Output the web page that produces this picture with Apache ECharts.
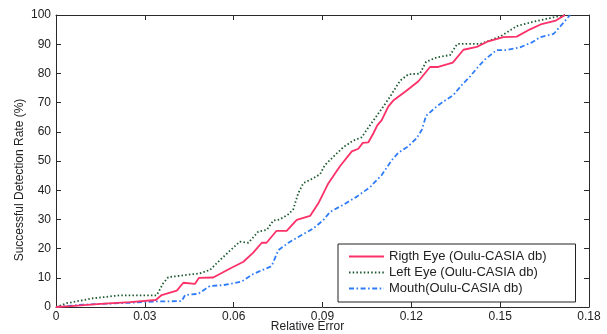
<!DOCTYPE html>
<html>
<head>
<meta charset="utf-8">
<script src="https://cdn.jsdelivr.net/npm/echarts@6/dist/echarts.min.js"></script>
<style>html,body{margin:0;padding:0;background:#fff}#c{width:607px;height:334px}</style>
</head>
<body>
<div id="c"></div>
<script>
const seriesNames = ['Rigth Eye (Oulu-CASIA db)', 'Left Eye (Oulu-CASIA db)', 'Mouth(Oulu-CASIA db)'];

const rightEyeX = [0, 0.005, 0.015, 0.025, 0.0337, 0.0357, 0.0408, 0.0430, 0.0469, 0.0483, 0.0531, 0.0588, 0.0633, 0.0666, 0.0695, 0.0711, 0.0745, 0.0779, 0.0813, 0.0858, 0.0886, 0.0920, 0.0959, 0.0999, 0.1021, 0.1036, 0.1055, 0.1072, 0.1085, 0.1100, 0.1122, 0.1139, 0.1179, 0.1224, 0.1263, 0.1291, 0.1340, 0.1376, 0.1421, 0.1460, 0.1511, 0.1556, 0.1601, 0.1640, 0.1688, 0.1719];
const rightEyeY = [0, 0.3, 1.1, 1.7, 2.4, 4.1, 5.6, 8.3, 7.9, 10.0, 10.1, 13.2, 15.5, 18.6, 22, 22, 26.1, 26.1, 29.8, 31.2, 35.5, 42.4, 48.2, 53.3, 54.2, 56.2, 56.4, 59.5, 62.2, 64, 68.6, 70.7, 73.7, 77.3, 82.2, 82.2, 83.7, 88.1, 89.1, 91, 92.4, 92.6, 95.1, 96.9, 98.1, 100];

const leftEyeX = [0, 0.0036, 0.0126, 0.0216, 0.0340, 0.0362, 0.0379, 0.0441, 0.0486, 0.0520, 0.0554, 0.0588, 0.0621, 0.0650, 0.0683, 0.0712, 0.0734, 0.0756, 0.0785, 0.0801, 0.0818, 0.0835, 0.0869, 0.0892, 0.0908, 0.0937, 0.0970, 0.1004, 0.1032, 0.1049, 0.1077, 0.1105, 0.1128, 0.1162, 0.1190, 0.1229, 0.1250, 0.1286, 0.1331, 0.1355, 0.1432, 0.1500, 0.1556, 0.1612, 0.1680, 0.1719];
const leftEyeY = [0, 1.3, 3.0, 4.0, 4.0, 8.1, 10.2, 11, 11.5, 12.7, 16.1, 19.3, 22.4, 22, 25.8, 26.4, 29.6, 30, 31.8, 33.4, 38.9, 42.4, 44.1, 45.5, 48.6, 51.5, 54.7, 57, 58.1, 60.6, 64.6, 68.6, 72, 77.5, 79.7, 79.9, 84, 85.5, 86.3, 90.1, 90.1, 92.6, 96.2, 97.7, 99.2, 100];

const mouthX = [0, 0.0092, 0.0261, 0.0340, 0.0424, 0.0436, 0.0480, 0.0520, 0.0565, 0.0627, 0.0666, 0.0728, 0.0751, 0.0785, 0.0824, 0.0869, 0.0903, 0.0925, 0.0970, 0.1016, 0.1060, 0.1100, 0.1134, 0.1156, 0.1190, 0.1218, 0.1235, 0.1250, 0.1280, 0.1303, 0.1342, 0.1370, 0.1398, 0.1426, 0.1449, 0.1488, 0.1522, 0.1567, 0.1607, 0.1635, 0.1680, 0.1702, 0.1736];
const mouthY = [0, 0.8, 1.5, 1.9, 2.0, 4.1, 4.5, 7.2, 7.5, 8.7, 11.3, 14, 19.5, 22, 24.3, 26.9, 29.8, 32.5, 35, 37.8, 41, 45.2, 50.3, 52.8, 55.1, 57.8, 60.6, 65.5, 68.2, 70, 72.6, 76, 78.9, 82.3, 84.8, 88, 88, 88.9, 90.6, 92.4, 93.5, 96, 100];

const xTicks = [0, 0.03, 0.06, 0.09, 0.12, 0.15, 0.18];
const yTicks = [0, 10, 20, 30, 40, 50, 60, 70, 80, 90, 100];

const zip = (xs, ys) => xs.map((x, i) => [x, ys[i]]);
const FONT = '"Liberation Sans", Arial, sans-serif';
const axisCol = '#2a2a2a';

const baseX = {
  type: 'value', min: xTicks[0], max: xTicks[xTicks.length - 1], interval: 0.03,
  axisLine: { show: true, onZero: false, lineStyle: { color: axisCol, width: 1 } },
  axisTick: { show: true, inside: true, length: 5, lineStyle: { color: axisCol } },
  splitLine: { show: false }
};
const baseY = {
  type: 'value', min: yTicks[0], max: yTicks[yTicks.length - 1], interval: 10,
  axisLine: { show: true, onZero: false, lineStyle: { color: axisCol, width: 1 } },
  axisTick: { show: true, inside: true, length: 5, lineStyle: { color: axisCol } },
  splitLine: { show: false }
};

const chart = echarts.init(document.getElementById('c'), null, { renderer: 'canvas' });
chart.setOption({
  animation: false,
  backgroundColor: '#fff',
  textStyle: { fontFamily: FONT },
  grid: { left: 56, right: 18, top: 15, bottom: 27, containLabel: false, outerBoundsMode: 'none' },
  xAxis: [
    Object.assign({}, baseX, {
      position: 'bottom',
      name: 'Relative Error', nameLocation: 'middle', nameGap: 14, nameMoveOverlap: false,
      nameTextStyle: { fontFamily: FONT, fontSize: 12, color: '#222', padding: [0, 30, 0, 0] },
      axisLabel: { show: true, margin: 4, fontFamily: FONT, fontSize: 12, color: '#222',
        formatter: v => (v === 0 ? '0' : v.toFixed(2)) }
    }),
    Object.assign({}, baseX, { position: 'top', axisLabel: { show: false } })
  ],
  yAxis: [
    Object.assign({}, baseY, {
      position: 'left',
      name: 'Successful Detection Rate (%)', nameLocation: 'middle', nameGap: 30, nameMoveOverlap: false,
      nameTextStyle: { fontFamily: FONT, fontSize: 12, color: '#222', padding: [0, 38, 0, 0] },
      axisLabel: { show: true, margin: 5, fontFamily: FONT, fontSize: 12, color: '#222' }
    }),
    Object.assign({}, baseY, { position: 'right', axisLabel: { show: false } })
  ],
  legend: {
    show: true, orient: 'vertical', left: 338, top: 244,
    padding: [6, 29, 7, 10], itemGap: 3, itemWidth: 35, itemHeight: 14,
    backgroundColor: '#fff', borderColor: '#222', borderWidth: 1, borderRadius: 0,
    itemStyle: { opacity: 0 },
    textStyle: { fontFamily: FONT, fontSize: 13, color: '#222' },
    data: seriesNames
  },
  series: [
    { name: seriesNames[0], type: 'line', data: zip(rightEyeX, rightEyeY), showSymbol: false, symbol: 'none',
      lineStyle: { color: '#fb3168', width: 1.8, type: 'solid' }, itemStyle: { color: '#fb3168' }, z: 4 },
    { name: seriesNames[1], type: 'line', data: zip(leftEyeX, leftEyeY), showSymbol: false, symbol: 'none',
      lineStyle: { color: '#1d5a30', width: 1.8, type: [1.5, 2.2] }, itemStyle: { color: '#1d5a30' }, z: 3 },
    { name: seriesNames[2], type: 'line', data: zip(mouthX, mouthY), showSymbol: false, symbol: 'none',
      lineStyle: { color: '#2f7cf8', width: 1.8, type: [5, 2.5, 1.6, 2.5] }, itemStyle: { color: '#2f7cf8' }, z: 2 }
  ]
});
</script>
</body>
</html>
